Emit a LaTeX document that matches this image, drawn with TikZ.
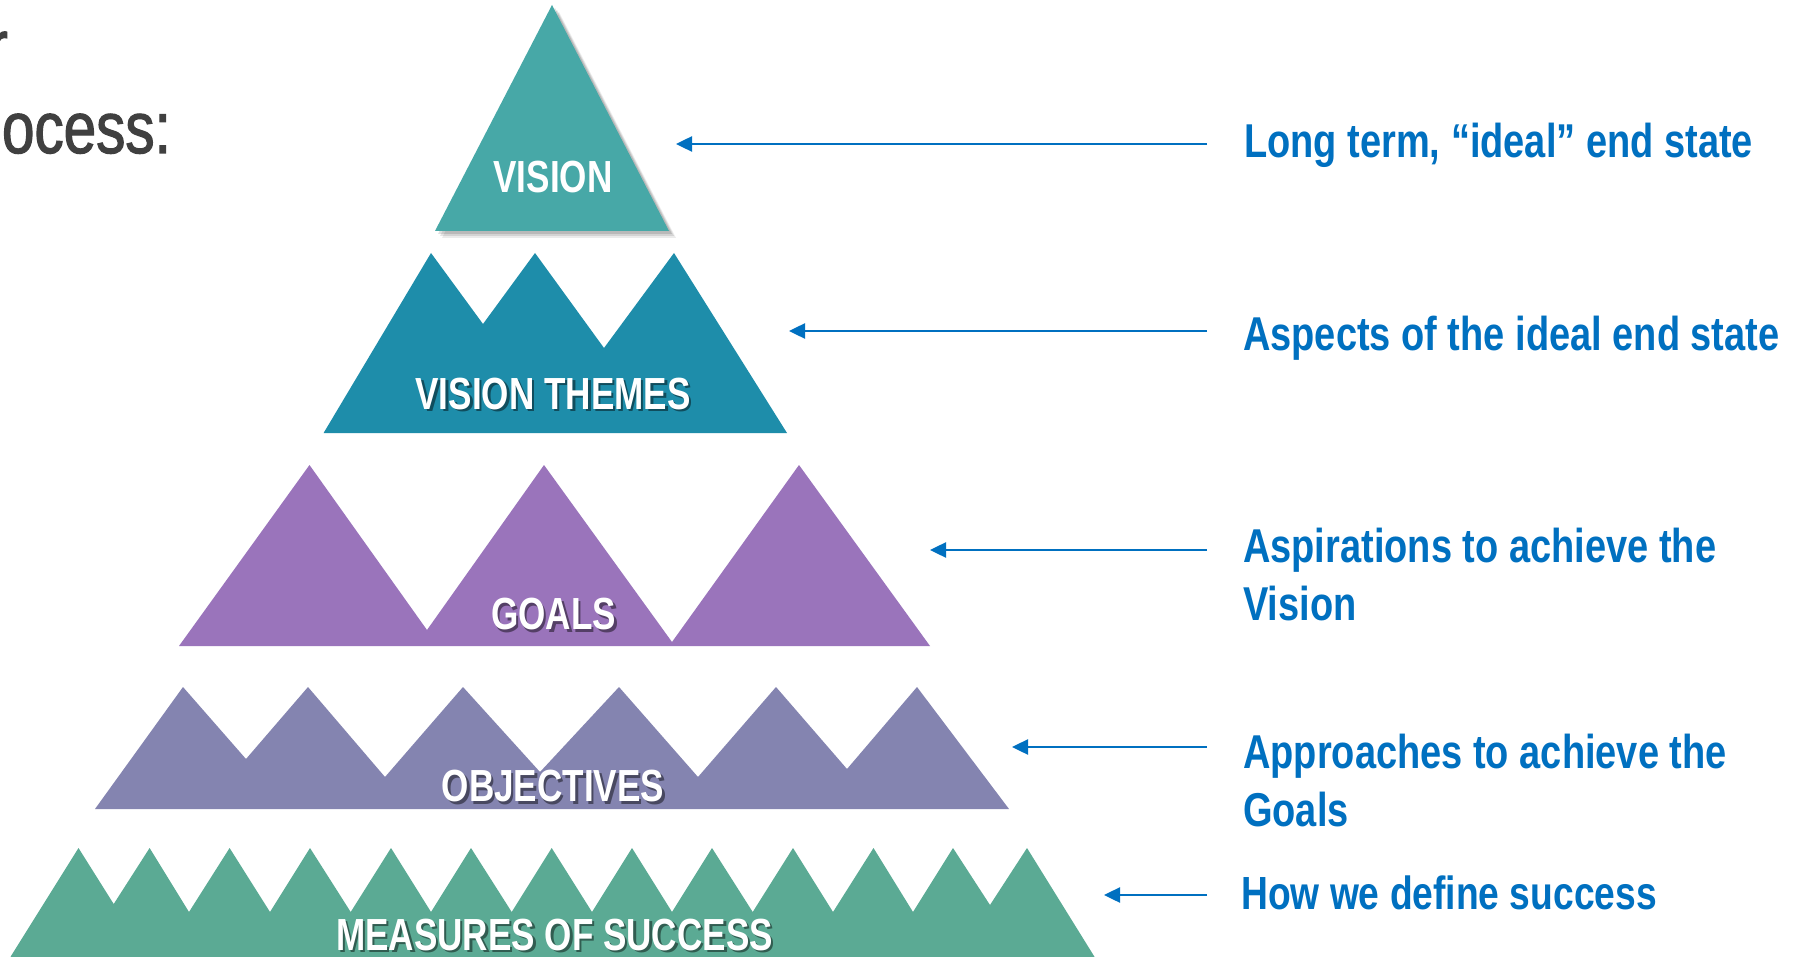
\documentclass[tikz,border=0pt]{standalone}
\usepackage{fontspec}
\setmainfont{Liberation Sans}
\newfontfamily\descfont[FakeStretch=0.8]{Liberation Sans}
\newfontfamily\layerfont[FakeStretch=0.78]{Liberation Sans}
\newfontfamily\headfont[FakeStretch=0.8,FakeBold=1.6]{Liberation Sans}
\usetikzlibrary{arrows.meta}
\definecolor{visioncol}{HTML}{47A8A7}
\definecolor{themecol}{HTML}{1E8DAA}
\definecolor{goalcol}{HTML}{9A74BB}
\definecolor{objcol}{HTML}{8484B0}
\definecolor{meascol}{HTML}{5BAA94}
\definecolor{descblue}{HTML}{0070C0}
\definecolor{headgray}{HTML}{404040}
\begin{document}
\begin{tikzpicture}[x=1pt,y=-1pt,
  layerlabel/.style={text=white, font=\layerfont\bfseries\fontsize{45}{54}\selectfont, inner sep=0pt, anchor=base},
  labelshade/.style={layerlabel, text=black, opacity=0.45},
  desc/.style={text=descblue, font=\descfont\bfseries\fontsize{47.5}{58}\selectfont, inner sep=0pt, align=left},
  headtext/.style={text=headgray, font=\headfont\fontsize{73}{82}\selectfont, inner sep=0pt, anchor=base east},
  pointer/.style={draw=descblue, line width=2.5pt, -{Triangle[length=16pt,width=15pt]}},
]
\useasboundingbox (0,0) rectangle (1812,957);
\fill[white] (0,0) rectangle (1812,957);

% cut-off heading
\node[headtext] (head1) at (8,71) {r};
\node[headtext] (head2) at (171,153) {ocess:};

% VISION (with soft drop shadow)
\foreach \d/\o in {7/0.08,5/0.10,3/0.12}{
  \fill[black, opacity=\o] (435+\d,231+\d) -- (552+\d,5+\d) -- (669+\d,231+\d) -- cycle;
}
\fill[visioncol] (435,231) -- (552,5) -- (669,231) -- cycle;
\node[layerlabel] (visionlbl) at (553,193) {VISION};

% VISION THEMES
\fill[themecol] (323.6,433) -- (431,253) -- (483,324) -- (535,253) -- (604,348)
  -- (674,253) -- (787,433) -- cycle;
\node[labelshade] (themesshade) at (555.5,411.5) {VISION THEMES};
\node[layerlabel] (themeslbl) at (553,409) {VISION THEMES};

% GOALS
\fill[goalcol] (179,646) -- (309.5,465) -- (427,630) -- (544,465) -- (672,642)
  -- (799,465) -- (930,646) -- cycle;
\node[labelshade] (goalsshade) at (556,632) {GOALS};
\node[layerlabel] (goalslbl) at (553.5,629.5) {GOALS};

% OBJECTIVES
\fill[objcol] (95,809) -- (183,687) -- (246,759) -- (308,687) -- (385,777) -- (463,687)
  -- (540,772) -- (619,687) -- (698,777) -- (776,687) -- (847,769) -- (917,687)
  -- (1009,809) -- cycle;
\node[labelshade] (objshade) at (555.5,804) {OBJECTIVES};
\node[layerlabel] (objlbl) at (553,801.5) {OBJECTIVES};

% MEASURES OF SUCCESS
\fill[meascol] (9,960) -- (11,956) -- (78.5,848) -- (113.7,904) -- (149.6,848) -- (189,912)
  -- (229.6,848) -- (270,912) -- (310,848) -- (350.7,912) -- (391,848) -- (431,912)
  -- (471,848) -- (511.7,912) -- (551.7,848) -- (592,912) -- (632,848) -- (672,912)
  -- (712,848) -- (752.7,912) -- (793,848) -- (833,912) -- (873.5,848) -- (913,912)
  -- (953,848) -- (990,905) -- (1027,848) -- (1094,956) -- (1096,960) -- cycle;
\node[labelshade] (measshade) at (557,952.5) {MEASURES OF SUCCESS};
\node[layerlabel] (measlbl) at (554.5,950) {MEASURES OF SUCCESS};

% descriptions
\node[desc, anchor=base west] (d1) at (1244,157.5) {Long term, “ideal” end state};
\node[desc, anchor=base west] (d2) at (1243,351) {Aspects of the ideal end state};
\node[desc, anchor=north west] (d3) at (1243,528) {Aspirations to achieve the\\Vision};
\node[desc, anchor=north west] (d4) at (1243,734) {Approaches to achieve the\\Goals};
\node[desc, anchor=base west, font=\descfont\bfseries\fontsize{46.5}{58}\selectfont] (d5) at (1241,909) {How we define success};

% pointers
\coordinate (p1s) at (1207,144);  \coordinate (p1e) at (676,144);
\coordinate (p2s) at (1207,331);  \coordinate (p2e) at (789,331);
\coordinate (p3s) at (1207,550);  \coordinate (p3e) at (930,550);
\coordinate (p4s) at (1207,747);  \coordinate (p4e) at (1012,747);
\coordinate (p5s) at (1207,895);  \coordinate (p5e) at (1104,895);
\draw[pointer] (p1s) -- (p1e);
\draw[pointer] (p2s) -- (p2e);
\draw[pointer] (p3s) -- (p3e);
\draw[pointer] (p4s) -- (p4e);
\draw[pointer] (p5s) -- (p5e);
\end{tikzpicture}
\end{document}
